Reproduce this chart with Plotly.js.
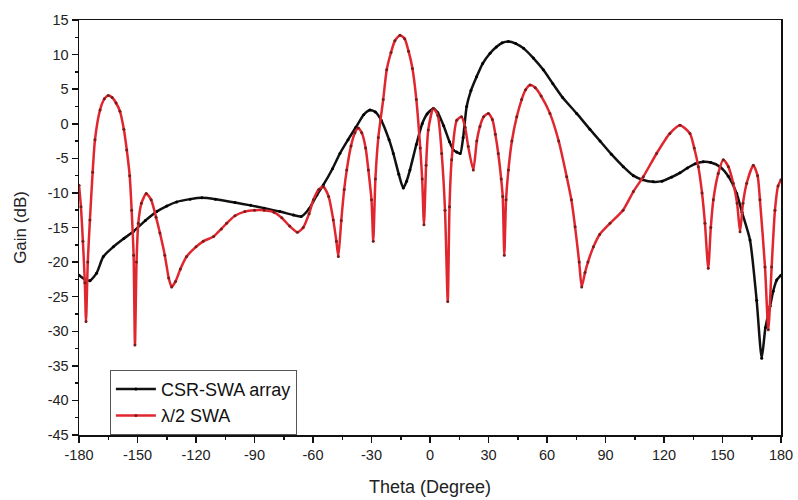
<!DOCTYPE html>
<html>
<head>
<meta charset="utf-8">
<script src="https://cdn.plot.ly/plotly-3.0.1.min.js"></script>
<style>html,body{margin:0;padding:0;background:#fff;}#chart{width:798px;height:500px;}</style>
</head>
<body>
<div id="chart"></div>
<script>
const csrTheta = [-180,-177,-174.4,-171,-167.5,-162.4,-157,-152.2,-146,-140.2,-135,-129.9,-123,-117,-110,-100,-92,-85,-77,-70,-66,-62,-58,-54.7,-50,-46.2,-42,-38,-34,-30.8,-28,-25,-21,-18.8,-16,-13.7,-12,-10.3,-7,-4,-1.5,1.7,4,7,10,12,13.7,15.5,17,18.8,21,23.9,27,30.8,34,37,40.2,44,48,53,58.1,63,68,75.2,82,87.2,93,99.1,104.3,109,114.5,119,124,128.2,132,136,140.1,144,148.7,153,157.3,160,164.1,167.5,170.1,172,174.4,176,177.8,180];
const csrGain  = [-21.9,-22.5,-22.7,-21.6,-19.2,-17.8,-16.6,-15.6,-14.0,-12.7,-11.9,-11.3,-10.9,-10.7,-10.9,-11.4,-11.8,-12.2,-12.7,-13.2,-13.4,-12.3,-10.3,-8.85,-6.5,-4.3,-2.3,-0.5,1.3,2.0,1.7,0.5,-2.3,-4.3,-7.3,-9.3,-8.3,-6.7,-3.0,0.0,1.4,2.2,1.6,-0.3,-2.6,-3.8,-4.1,-4.3,-2.0,2.5,4.8,6.8,8.7,10.2,11.1,11.7,11.9,11.6,10.9,9.5,7.8,5.8,3.8,1.5,-0.8,-2.5,-4.4,-6.2,-7.5,-8.1,-8.4,-8.3,-7.7,-7.1,-6.4,-5.8,-5.5,-5.6,-6.2,-7.6,-10.1,-12.8,-16.8,-25.5,-33.9,-29.5,-26.4,-24.2,-22.6,-21.9];

const swaTheta = [-180,-179,-178,-177,-176.4,-175.5,-174.4,-173,-171.8,-169.2,-167,-165,-163,-161,-159,-157,-155.5,-154,-153,-152,-151.3,-150.5,-149.6,-148,-145.5,-143,-140.5,-138.5,-136,-134,-132.5,-130.5,-128,-124.8,-120,-116.3,-111,-107,-104.3,-100,-95,-90,-85,-80,-76,-72,-68,-65,-62,-59.8,-57,-54.7,-52,-49.6,-48,-47,-45.5,-44,-42.7,-40.5,-38.5,-36.8,-35,-33,-31.6,-30,-29.1,-28,-26.5,-24,-22.2,-20,-18,-15.4,-13,-11,-9,-7,-5,-4,-3.1,-2,-0.9,1.7,4,6,7.7,9.1,10,11.1,13.7,16.2,18,19.6,22.2,24,25.6,27.5,29.9,32,33.5,35,36.5,37.3,38.1,39,40.2,42,44.5,47,49,51.3,54,57,61.5,66,70.1,72.5,74.4,76.5,77.8,79.5,81,83.8,87,92.3,99,104.3,109.4,116.2,123,128.2,133.3,135.5,137.6,139.5,141,142.7,144,145.3,147.8,150.4,153,155.5,157.5,159,160.5,162.4,165.8,168,169.2,171.8,173.5,175.2,176.9,178.5,180];
const swaGain  = [-8.9,-12,-17,-23,-28.6,-20,-13.9,-7,-2.3,2.0,3.6,4.1,3.8,3.0,1.8,-0.8,-3.8,-7.5,-12.5,-19,-32,-20,-14.4,-11.5,-10.1,-11,-13.5,-15.8,-19,-22.3,-23.6,-22.8,-21,-19.2,-17.8,-17.0,-16.3,-15.2,-14.4,-13.3,-12.7,-12.5,-12.5,-12.8,-13.6,-14.8,-15.7,-15.0,-13.0,-11.0,-9.5,-9.1,-10.5,-13.9,-17,-19.2,-14,-9.5,-6.7,-3.2,-1.3,-0.6,-1.3,-3.5,-6.7,-11,-17.0,-8,-2,3.5,7.8,10.3,12.0,12.8,12.3,10.5,8.0,3.5,-3.5,-8.0,-14.6,-6,-0.9,2.2,1.2,-4.3,-12.5,-25.7,-12,-5.2,0.5,1.0,-0.5,-3.3,-6.7,-2.5,-0.4,1.0,1.5,0.6,-1.5,-4.3,-8,-10.5,-19.0,-11,-6.7,-2.5,1.0,3.5,4.9,5.6,5.2,4.0,1.5,-2.5,-7.65,-11,-14.9,-20,-23.6,-21.5,-20,-17.8,-16.0,-14.4,-12.5,-9.8,-7.65,-4.3,-1.4,-0.2,-1.4,-3.5,-6.2,-10,-14.4,-20.9,-15,-11.0,-7.2,-5.2,-6.2,-8.6,-11.5,-15.6,-11.5,-8.6,-6.0,-7.5,-11.0,-20.7,-29.8,-20.7,-12.5,-9.0,-8.1];

const xTicks = [-180,-150,-120,-90,-60,-30,0,30,60,90,120,150,180];
const yTicks = [-45,-40,-35,-30,-25,-20,-15,-10,-5,0,5,10,15];

const font = 'Liberation Sans, Arial, sans-serif';
const traces = [
  {x: csrTheta, y: csrGain, name: 'CSR-SWA array', type: 'scatter', mode: 'lines+markers',
   line: {color: '#111111', width: 2.5, shape: 'spline', smoothing: 0.6},
   marker: {color: '#000000', size: 3}},
  {x: swaTheta, y: swaGain, name: 'λ/2 SWA', type: 'scatter', mode: 'lines+markers',
   line: {color: '#e0262e', width: 2.5, shape: 'spline', smoothing: 0.6},
   marker: {color: '#7a1c1c', size: 3}}
];
const layout = {
  width: 798, height: 500,
  margin: {l: 79, r: 17, t: 20, b: 65},
  paper_bgcolor: '#ffffff', plot_bgcolor: '#ffffff',
  font: {family: font, size: 14, color: '#222'},
  showlegend: true,
  legend: {x: 0.044, y: 0.157, xanchor: 'left', yanchor: 'top', bgcolor: '#ffffff',
           bordercolor: '#555', borderwidth: 1, font: {family: font, size: 18, color: '#111'},
           tracegroupgap: 0, itemwidth: 40},
  xaxis: {range: [-180, 180], tickvals: xTicks, ticktext: xTicks.map(String),
          showgrid: false, zeroline: false, showline: true, linecolor: '#111', linewidth: 1.5,
          mirror: true, ticks: 'outside', ticklen: 6, tickcolor: '#111', tickwidth: 1.5,
          minor: {dtick: 15, ticks: 'outside', ticklen: 3, tickcolor: '#111', showgrid: false},
          tickfont: {family: font, size: 14.5, color: '#222'},
          title: {text: 'Theta (Degree)', font: {family: font, size: 18, color: '#222'}, standoff: 18}},
  yaxis: {range: [-45, 15], tickvals: yTicks, ticktext: yTicks.map(String),
          showgrid: false, zeroline: false, showline: true, linecolor: '#111', linewidth: 1.5,
          mirror: true, ticks: 'outside', ticklen: 6, tickcolor: '#111', tickwidth: 1.5,
          minor: {dtick: 2.5, ticks: 'outside', ticklen: 3, tickcolor: '#111', showgrid: false},
          tickfont: {family: font, size: 14.5, color: '#222'},
          title: {text: 'Gain (dB)', font: {family: font, size: 17, color: '#222'}, standoff: 16}}
};
Plotly.newPlot('chart', traces, layout, {displayModeBar: false, staticPlot: true});
</script>
</body>
</html>
